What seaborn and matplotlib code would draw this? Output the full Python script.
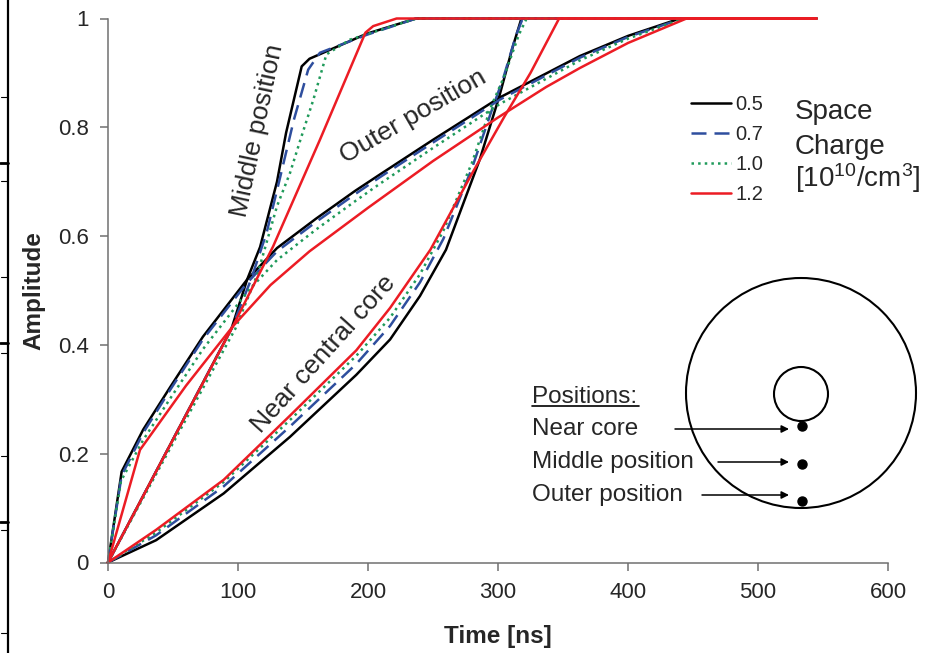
import pandas as pd
import matplotlib.pyplot as plt
import seaborn as sns
from matplotlib.lines import Line2D
from matplotlib.patches import Circle

sns.set_style("ticks")
plt.rcParams['font.family'] = ['Liberation Sans', 'DejaVu Sans']
plt.rcParams['mathtext.fontset'] = 'custom'
plt.rcParams['mathtext.rm'] = 'Liberation Sans'
plt.rcParams['mathtext.it'] = 'Liberation Sans:italic'

# space charge levels [10^10/cm^3]
charges = ['0.5', '0.7', '1.0', '1.2']
colors = ['#000000', '#2e4e9e', '#1f9a5a', '#ec1c24']
dash_map = {'0.5': '', '0.7': (6, 3.2), '1.0': (1, 1.65), '1.2': ''}

# (time [ns], amplitude)
core_05 = [(0, 0), (37, 0.041), (89, 0.127), (140, 0.231), (191, 0.345), (217, 0.410), (240, 0.49),
           (260, 0.575), (286, 0.741), (301, 0.857), (311, 0.945), (318, 1), (545, 1)]
core_07 = [(0, 0), (37, 0.05), (89, 0.14), (140, 0.25), (191, 0.365), (217, 0.435), (240, 0.515),
           (258, 0.595), (280, 0.725), (295, 0.83), (304, 0.89), (314, 0.97), (319, 1), (545, 1)]
core_10 = [(0, 0), (37, 0.055), (89, 0.148), (140, 0.262), (191, 0.38), (217, 0.45), (240, 0.53),
           (258, 0.61), (280, 0.735), (295, 0.84), (305, 0.895), (316, 0.97), (322, 1), (545, 1)]
core_12 = [(0, 0), (37, 0.06), (89, 0.152), (140, 0.27), (191, 0.39), (217, 0.468),
           (248, 0.575), (280, 0.715), (305, 0.82), (325, 0.9), (347, 1), (545, 1)]

middle_05 = [(0, 0), (95, 0.43), (107, 0.52), (117, 0.58), (130, 0.70), (137, 0.79), (149, 0.912),
             (155, 0.926), (199, 0.972), (237, 1), (545, 1)]
middle_07 = [(0, 0), (95, 0.43), (110, 0.52), (122, 0.606), (132, 0.704), (143, 0.814), (154, 0.906),
             (163, 0.937), (199, 0.97), (237, 1), (545, 1)]
middle_10 = [(0, 0), (98, 0.43), (115, 0.53), (130, 0.655), (140, 0.716), (148, 0.777), (158, 0.851),
             (168, 0.934), (186, 0.961), (237, 1), (545, 1)]
middle_12 = [(0, 0), (96, 0.434), (127, 0.581), (163, 0.777), (198, 0.974), (204, 0.986), (222, 1),
             (545, 1)]

outer_05 = [(0, 0), (10.5, 0.167), (27, 0.244), (48, 0.323), (73, 0.415), (107, 0.52), (130, 0.578),
            (160, 0.632), (190, 0.683), (209, 0.713), (250, 0.777), (301.5, 0.855), (363, 0.931),
            (400, 0.968), (440, 1), (545, 1)]
outer_07 = [(0, 0), (10.5, 0.16), (27, 0.238), (48, 0.318), (73, 0.41), (107, 0.514), (130, 0.572),
            (160, 0.626), (190, 0.677), (209, 0.708), (250, 0.772), (301.5, 0.851), (363, 0.928),
            (400, 0.966), (442, 1), (545, 1)]
outer_10 = [(0, 0), (10, 0.15), (27, 0.225), (48, 0.302), (73, 0.392), (107, 0.497), (130, 0.556),
            (160, 0.612), (190, 0.664), (209, 0.696), (250, 0.762), (301.5, 0.843), (363, 0.923),
            (400, 0.963), (443, 1), (545, 1)]
outer_12 = [(0, 0), (24.6, 0.207), (60, 0.325), (96, 0.434), (125, 0.51), (155, 0.572), (200, 0.652),
            (250, 0.738), (300, 0.818), (337, 0.874), (363, 0.909), (400, 0.955), (445, 1), (545, 1)]

series = [
    ('core', '0.5', core_05), ('core', '0.7', core_07), ('core', '1.0', core_10), ('core', '1.2', core_12),
    ('middle', '0.5', middle_05), ('middle', '0.7', middle_07), ('middle', '1.0', middle_10), ('middle', '1.2', middle_12),
    ('outer', '0.5', outer_05), ('outer', '0.7', outer_07), ('outer', '1.0', outer_10), ('outer', '1.2', outer_12),
]
rows = []
for pos, ch, pts in series:
    for t, a in pts:
        rows.append({'position': pos, 'charge': ch, 'time': t, 'amp': a})
df = pd.DataFrame(rows)

fig = plt.figure(figsize=(9.37, 6.53), dpi=100)
ax = fig.add_axes([108 / 937, 1 - 562.5 / 653, 780 / 937, 544 / 653])

sns.lineplot(data=df, x='time', y='amp', hue='charge', style='charge', units='position',
             estimator=None, sort=False, hue_order=charges, style_order=charges,
             palette=colors, dashes=dash_map, linewidth=1.8, legend=False, ax=ax, clip_on=False)

ax.set_xlim(0, 600)
ax.set_ylim(0, 1)
ax.set_xticks([0, 100, 200, 300, 400, 500, 600])
ax.set_yticks([0, 0.2, 0.4, 0.6, 0.8, 1.0])
ax.set_yticklabels(['0', '0.2', '0.4', '0.6', '0.8', '1'])
ax.tick_params(direction='out', length=6, width=1.1, color='#707070', labelsize=16, pad=8)
for side in ['top', 'right']:
    ax.spines[side].set_visible(False)
for side in ['left', 'bottom']:
    ax.spines[side].set_color('#707070')
    ax.spines[side].set_linewidth(1.1)
ax.set_xlabel('Time [ns]', fontsize=17.5, fontweight='bold', labelpad=16)
ax.set_ylabel('Amplitude', fontsize=17.5, fontweight='bold', labelpad=9)
ax.patch.set_alpha(0)

# curve group labels
ax.text(115.4, 0.794, 'Middle position', fontsize=19, rotation=78, ha='center', va='center',
        rotation_mode='anchor')
ax.text(234.6, 0.82, 'Outer position', fontsize=19, rotation=30, ha='center', va='center',
        rotation_mode='anchor')
ax.text(165.8, 0.384, 'Near central core', fontsize=19, rotation=48, ha='center', va='center',
        rotation_mode='anchor')

# legend
handles = [Line2D([], [], color=c, lw=1.8, dashes=(dash_map[ch] if dash_map[ch] else (None, None)))
           for c, ch in zip(colors, charges)]
fig.legend(handles, charges, loc='upper left', bbox_to_anchor=(691 / 937, 1 - 95 / 653),
           frameon=False, borderpad=0, borderaxespad=0, handlelength=2.0, handletextpad=0.2,
           labelspacing=0.55, fontsize=14.5)
fig.text(795 / 937, 1 - 119 / 653, 'Space', fontsize=20, va='baseline')
fig.text(795 / 937, 1 - 153.5 / 653, 'Charge', fontsize=20, va='baseline')
fig.text(795 / 937, 1 - 187.5 / 653, r'[10$^{10}$/cm$^{3}$]', fontsize=20, va='baseline')

# cable cross-section sketch, in figure pixels
ov = fig.add_axes([0, 0, 1, 1])
ov.set_xlim(0, 937)
ov.set_ylim(653, 0)
ov.axis('off')
ov.add_patch(Circle((801, 393), 115, fill=False, ec='black', lw=1.5))
ov.add_patch(Circle((801, 394), 27, fill=False, ec='black', lw=1.5))
ov.text(532, 397, 'Positions:', fontsize=17.5, va='center')
ov.plot([532, 639], [406, 406], color='black', lw=1.2)
sketch_labels = ['Near core', 'Middle position', 'Outer position']
label_y = [429, 462, 495]
arrow_x0 = [675, 718, 702]
dot_y = [426, 464, 501]
for lab, ly, x0, dy in zip(sketch_labels, label_y, arrow_x0, dot_y):
    ov.text(532, ly, lab, fontsize=17.5, va='center')
    ov.annotate('', xy=(789, ly), xytext=(x0, ly),
                arrowprops=dict(arrowstyle='-|>', color='black', lw=1.1, mutation_scale=11,
                                shrinkA=0, shrinkB=0))
    ov.plot(802, dy, 'o', color='black', ms=6.5)

# edge of the neighbouring panel
ov.plot([8, 8], [0, 653], color='black', lw=1.6)
for yy in [97, 181, 277, 353, 456, 530, 633]:
    ov.plot([1, 8], [yy, yy], color='black', lw=0.8)
for yy in [163, 343, 522]:
    ov.plot([0, 8], [yy, yy], color='black', lw=2)

fig.savefig('out.png', dpi=100)
